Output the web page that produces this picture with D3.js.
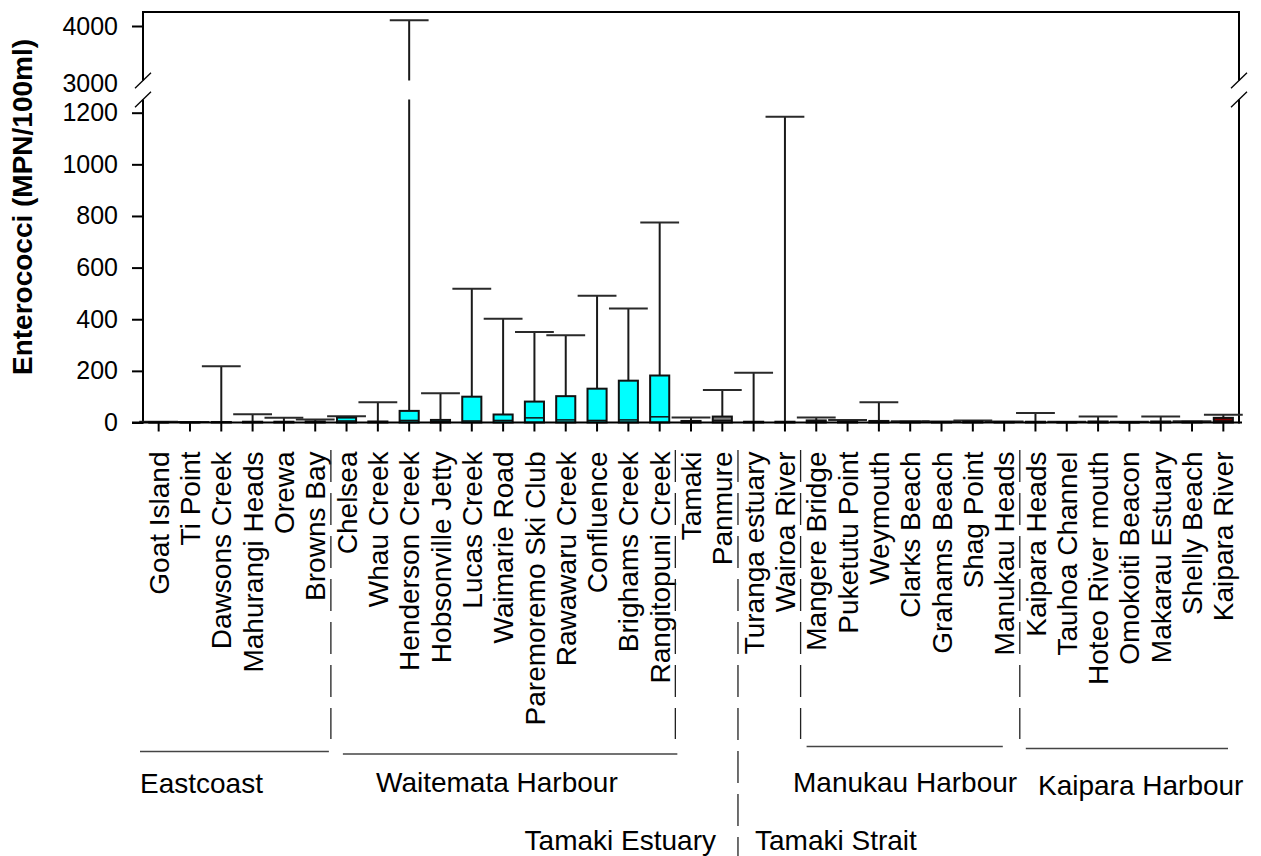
<!DOCTYPE html>
<html>
<head>
<meta charset="utf-8">
<script src="https://cdn.jsdelivr.net/npm/d3@7"></script>
<style>
  body { margin: 0; background: #fff; }
  text { font-family: "Liberation Sans", Arial, sans-serif; fill: #000; }
</style>
</head>
<body>
<div id="container"></div>
<script>
/* CONSTANTS AND GLOBALS */
const width = 1261,
  height = 856,
  plot = {left: 143, right: 1239, top: 12, base: 422.5, lowTop: 99.5, highBottom: 80.5};

/* DATA */
const sites = ["Goat Island", "Ti Point", "Dawsons Creek", "Mahurangi Heads", "Orewa", "Browns Bay",
  "Chelsea", "Whau Creek", "Henderson Creek", "Hobsonville Jetty", "Lucas Creek", "Waimarie Road",
  "Paremoremo Ski Club", "Rawawaru Creek", "Confluence", "Brighams Creek", "Rangitopuni Creek",
  "Tamaki", "Panmure", "Turanga estuary", "Wairoa River",
  "Mangere Bridge", "Puketutu Point", "Weymouth", "Clarks Beach", "Grahams Beach", "Shag Point", "Manukau Heads",
  "Kaipara Heads", "Tauhoa Channel", "Hoteo River mouth", "Omokoiti Beacon", "Makarau Estuary", "Shelly Beach", "Kaipara River"];

// box top (upper quartile), median and whisker top, MPN/100ml
const upperQuartile = [1, 1, 2, 3, 3, 4, 19, 4, 45, 10, 100, 31, 81, 102, 131, 162, 182,
  6, 23, 3, 3, 8, 4, 6, 3, 2, 4, 2, 3, 1, 4, 1, 4, 3, 18];
const medians = [0, 0, 1, 1, 1, 2, 6, 2, 8, 4, 6, 8, 18, 10, 8, 10, 22,
  3, 8, 1, 1, 4, 2, 3, 1, 1, 2, 1, 1, 0, 2, 0, 2, 1, 6];
const maxima = [3, 2, 218, 32, 18, 12, 24, 78, 4100, 113, 518, 402, 351, 338, 491, 442, 775,
  19, 126, 193, 1184, 19, 10, 78, 5, 4, 8, 4, 37, 3, 23, 3, 23, 5, 30];

const lowTicks = [0, 200, 400, 600, 800, 1000, 1200];
const highTicks = [3000, 4000];

const groupNames = ["Eastcoast", "Waitemata Harbour", "Tamaki Estuary", "Tamaki Strait", "Manukau Harbour", "Kaipara Harbour"];
const groupFirst = ["Goat Island", "Chelsea", "Tamaki", "Turanga estuary", "Mangere Bridge", "Kaipara Heads"];
const groupColors = ["#00ffff", "#00ffff", "#808080", "#808080", "#808080", "#800000"];

// layout for the group annotations (label x, label anchor, line inset left/right)
const groupLayout = [
  {lx: 140, anchor: "start", ly: 793, line: [-3, -2], lineY: 751.5},
  {lx: 376, anchor: "start", ly: 792, line: [12, 2], lineY: 754},
  {lx: 716, anchor: "end", ly: 850, line: null},
  {lx: 755, anchor: "start", ly: 850, line: null},
  {lx: 793, anchor: "start", ly: 791.5, line: [6, -17], lineY: 746.5},
  {lx: 1038, anchor: "start", ly: 795, line: [6, -11], lineY: 748.5}
];

const groupOf = sites.map((s, i) => {
  let g = 0;
  groupFirst.forEach((f, j) => { if (sites.indexOf(f) <= i) g = j; });
  return g;
});

// SCALES
const xScale = d3.scaleBand()
  .domain(sites)
  .range([plot.left, plot.right])
  .padding(0);

const yLow = d3.scaleLinear()
  .domain([0, 1200])
  .range([plot.base, 112.7]);

const yHigh = d3.scaleLinear()
  .domain([3000, 4000])
  .range([83, 26]);

const yPos = v => v > 1250 ? yHigh(v) : yLow(v);

// CREATE SVG ELEMENT
const svg = d3.select("#container")
  .append("svg")
  .attr("width", width)
  .attr("height", height);

// AXES
const lowAxis = svg.append("g")
  .attr("transform", `translate(${plot.left},0)`)
  .call(d3.axisLeft(yLow).tickValues(lowTicks).tickFormat(d3.format("d")).tickSize(11).tickPadding(14));

const highAxis = svg.append("g")
  .attr("transform", `translate(${plot.left},0)`)
  .call(d3.axisLeft(yHigh).tickValues(highTicks).tickFormat(d3.format("d")).tickSize(11).tickPadding(14));

[lowAxis, highAxis].forEach(a => {
  a.select(".domain").remove();
  a.selectAll(".tick line").attr("stroke", "#000").attr("stroke-width", 2);
  a.selectAll(".tick text").style("font-size", "25px");
});
highAxis.selectAll(".tick").filter(d => d === 3000).select("line").remove();

const xAxis = svg.append("g")
  .attr("transform", `translate(0,${plot.base})`)
  .call(d3.axisBottom(xScale).tickSize(9).tickSizeOuter(0));

xAxis.select(".domain").remove();
xAxis.selectAll(".tick line").attr("stroke", "#000").attr("stroke-width", 2);
xAxis.selectAll(".tick text")
  .style("font-size", "28px")
  .style("text-anchor", "end")
  .attr("transform", "rotate(-90)")
  .attr("x", -29)
  .attr("y", 0)
  .attr("dy", "0.36em");

// FRAME WITH BROKEN AXES
const frame = svg.append("g").attr("stroke", "#000").attr("stroke-width", 2).attr("fill", "none");
frame.append("line").attr("x1", plot.left).attr("x2", plot.right).attr("y1", plot.top).attr("y2", plot.top);
[plot.left, plot.right].forEach(ax => {
  frame.append("line").attr("x1", ax).attr("x2", ax).attr("y1", plot.top - 1).attr("y2", plot.highBottom);
  frame.append("line").attr("x1", ax).attr("x2", ax).attr("y1", plot.lowTop).attr("y2", plot.base + 1);
  [plot.highBottom, plot.lowTop].forEach(by => {
    frame.append("line")
      .attr("stroke-width", 1.3)
      .attr("x1", ax - 8).attr("y1", by + 7.7)
      .attr("x2", ax + 8).attr("y2", by - 7.7);
  });
});

// BOXES AND WHISKERS
const bw = xScale.bandwidth();
const rows = sites.map((s, i) => ({site: s, q3: upperQuartile[i], med: medians[i], max: maxima[i], g: groupOf[i]}));
const cx = d => xScale(d.site) + bw / 2;

const marks = svg.append("g");

// whisker stems
marks.selectAll(".stem")
  .data(rows)
  .join("path")
  .attr("class", "stem")
  .attr("fill", "none")
  .attr("stroke", "#1a1a1a")
  .attr("stroke-width", 2)
  .attr("d", d => {
    const x = cx(d);
    if (d.max > 1250) {
      return `M${x},${yLow(d.q3)}V${plot.lowTop}M${x},${plot.highBottom}V${yHigh(d.max)}`;
    }
    return `M${x},${yLow(d.q3)}V${yPos(d.max)}`;
  });

// whisker caps
marks.selectAll(".cap")
  .data(rows)
  .join("line")
  .attr("class", "cap")
  .attr("stroke", "#2a2a2a")
  .attr("stroke-width", 2)
  .attr("x1", d => cx(d) - bw * 0.62)
  .attr("x2", d => cx(d) + bw * 0.62)
  .attr("y1", d => yPos(d.max))
  .attr("y2", d => yPos(d.max));

// boxes
marks.selectAll(".box")
  .data(rows)
  .join("rect")
  .attr("class", "box")
  .attr("x", d => cx(d) - bw * 0.305)
  .attr("width", bw * 0.61)
  .attr("y", d => yLow(d.q3))
  .attr("height", d => yLow(0) - yLow(d.q3))
  .attr("fill", d => groupColors[d.g])
  .attr("stroke", "#111")
  .attr("stroke-width", 2);

// medians
marks.selectAll(".median")
  .data(rows)
  .join("line")
  .attr("class", "median")
  .attr("stroke", "#111")
  .attr("stroke-width", 1.5)
  .attr("x1", d => cx(d) - bw * 0.305)
  .attr("x2", d => cx(d) + bw * 0.305)
  .attr("y1", d => yLow(d.med))
  .attr("y2", d => yLow(d.med));

// baseline on top of the boxes
svg.append("line")
  .attr("stroke", "#000").attr("stroke-width", 2)
  .attr("x1", plot.left - 11).attr("x2", plot.right + 3)
  .attr("y1", plot.base).attr("y2", plot.base);

// Y TITLE
svg.append("text")
  .attr("transform", "translate(31.5,207) rotate(-90)")
  .attr("text-anchor", "middle")
  .style("font-size", "28px")
  .style("font-weight", "bold")
  .text("Enterococci (MPN/100ml)");

// GROUP ANNOTATIONS
const notes = svg.append("g");
// dashed separators at the group boundaries
groupFirst.slice(1).forEach((f, j) => {
  const x = xScale(f);
  notes.append("line")
    .attr("stroke", "#222")
    .attr("stroke-width", 1.3)
    .attr("stroke-dasharray", "32,11")
    .attr("x1", x).attr("x2", x)
    .attr("y1", 450)
    .attr("y2", f === "Turanga estuary" ? 856 : 739);
});

groupNames.forEach((name, j) => {
  const lay = groupLayout[j];
  const first = sites.indexOf(groupFirst[j]);
  const last = j + 1 < groupFirst.length ? sites.indexOf(groupFirst[j + 1]) - 1 : sites.length - 1;
  if (lay.line) {
    notes.append("line")
      .attr("stroke", "#444")
      .attr("stroke-width", 1.5)
      .attr("x1", xScale(sites[first]) + lay.line[0])
      .attr("x2", xScale(sites[last]) + bw + lay.line[1])
      .attr("y1", lay.lineY).attr("y2", lay.lineY);
  }
  notes.append("text")
    .attr("x", lay.lx)
    .attr("y", lay.ly)
    .attr("text-anchor", lay.anchor)
    .style("font-size", "28px")
    .text(name);
});
</script>
</body>
</html>
